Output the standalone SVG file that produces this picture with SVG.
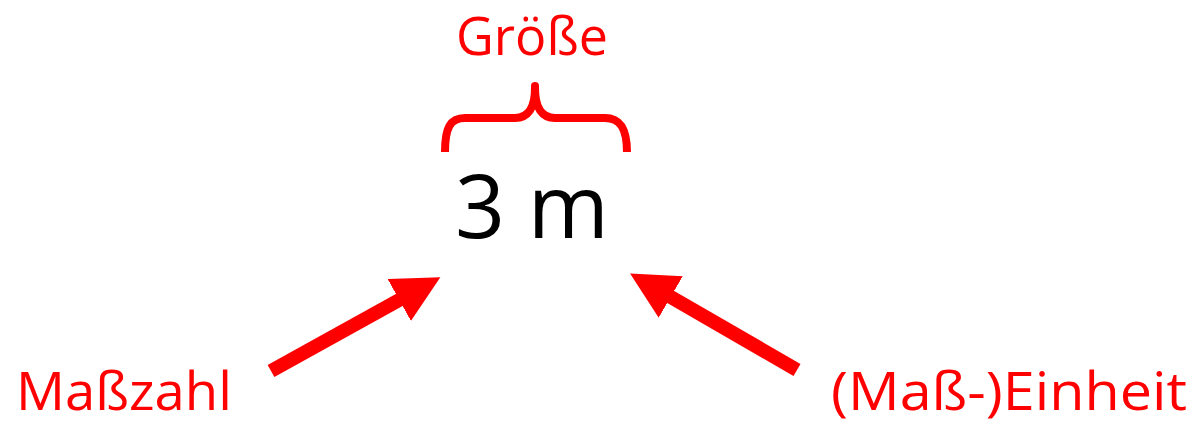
<svg xmlns="http://www.w3.org/2000/svg" width="1204" height="424" viewBox="0 0 1204 424">
<style>
.lbl{font-family:"Open Sans","Noto Sans","Liberation Sans",sans-serif;fill:#ff0000;font-size:53px}
.main{font-family:"Open Sans","Noto Sans","Liberation Sans",sans-serif;fill:#000000;font-size:88px}
.arr{stroke:#ff0000;stroke-width:14;fill:none;stroke-linecap:butt}
.brace{stroke:#ff0000;stroke-width:8;fill:none;stroke-linecap:butt;stroke-linejoin:round}
</style>
<defs>
<marker id="head" markerUnits="userSpaceOnUse" markerWidth="50" markerHeight="50" refX="2" refY="24" orient="auto">
<path d="M0,0 L47,24 L0,48 Z" fill="#ff0000"/>
</marker>
</defs>
<rect width="1204" height="424" fill="#ffffff"/>
<g id="groesse">
<text class="lbl" x="456" y="55" textLength="152" lengthAdjust="spacingAndGlyphs">Größe</text>
</g>
<g id="brace">
<path class="brace" d="M445,152 C445,128 450,118 465,118 L515,118 C528,118 535,108 535,88 C535,108 542,118 555,118 L605,118 C620,118 627,128 627,152"/>
<path d="M535,88 L535,86" stroke="#ff0000" stroke-width="8" stroke-linecap="round"/>
</g>
<g id="value">
<text class="main" x="455" y="238" textLength="154" lengthAdjust="spacingAndGlyphs">3 m</text>
</g>
<g id="masszahl">
<text class="lbl" x="16" y="410" textLength="216" lengthAdjust="spacingAndGlyphs">Maßzahl</text>
</g>
<g id="einheit">
<text class="lbl" x="831" y="410" textLength="356" lengthAdjust="spacingAndGlyphs">(Maß-)Einheit</text>
</g>
<g id="connectors">
<line class="arr" x1="271" y1="371" x2="401" y2="299" marker-end="url(#head)"/>
<line class="arr" x1="797" y1="370" x2="669" y2="296" marker-end="url(#head)"/>
</g>
</svg>
